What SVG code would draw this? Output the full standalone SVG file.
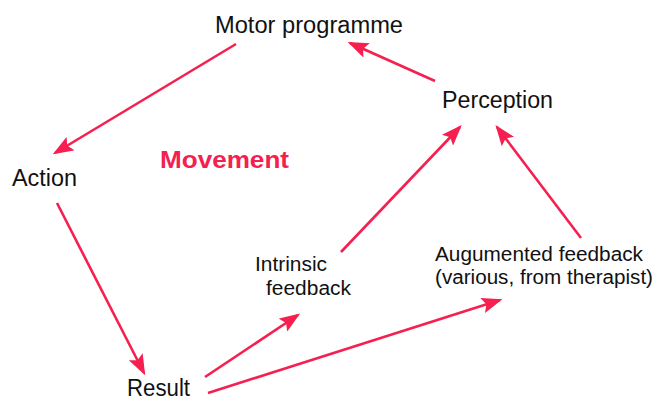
<svg xmlns="http://www.w3.org/2000/svg" width="656" height="400" viewBox="0 0 656 400">
<style>
text{font-family:"Liberation Sans",Arial,sans-serif;fill:#111;}
.n{font-size:23.5px;}
.s{font-size:20px;}
.m{font-size:23.5px;font-weight:bold;fill:#f5204f;}
.c line{stroke:#f5204f;stroke-width:2.6;marker-end:url(#ah);}
</style>
<defs>
<marker id="ah" markerWidth="8" markerHeight="6" refX="7" refY="3" orient="auto" markerUnits="strokeWidth">
<path d="M0,0 L8,3 L0,6 L1.5,3 Z" fill="#f5204f"/>
</marker>
</defs>
<rect width="656" height="400" fill="#fff"/>
<g class="c">
<line x1="236" y1="44" x2="55" y2="153"/>
<line x1="435" y1="81" x2="350" y2="43"/>
<line x1="57" y1="203" x2="144" y2="373"/>
<line x1="341" y1="252" x2="460" y2="127"/>
<line x1="581" y1="238" x2="497" y2="127"/>
<line x1="205" y1="377" x2="298" y2="315"/>
<line x1="208" y1="393" x2="500" y2="300"/>
</g>
<g id="motor"><text class="n" x="215" y="33" textLength="188" lengthAdjust="spacingAndGlyphs">Motor programme</text></g>
<g id="perception"><text class="n" x="442" y="108" textLength="111" lengthAdjust="spacingAndGlyphs">Perception</text></g>
<g id="movement"><text class="m" x="160" y="168" textLength="129" lengthAdjust="spacingAndGlyphs">Movement</text></g>
<g id="action"><text class="n" x="12" y="186" textLength="65" lengthAdjust="spacingAndGlyphs">Action</text></g>
<g id="result"><text class="n" x="127" y="396" textLength="63" lengthAdjust="spacingAndGlyphs">Result</text></g>
<g id="intrinsic"><text class="s" x="255" y="271" textLength="72" lengthAdjust="spacingAndGlyphs">Intrinsic</text><text class="s" x="266" y="295" textLength="85" lengthAdjust="spacingAndGlyphs">feedback</text></g>
<g id="augmented"><text class="s" x="435" y="261" textLength="208" lengthAdjust="spacingAndGlyphs">Augumented feedback</text><text class="s" x="435" y="284" textLength="218" lengthAdjust="spacingAndGlyphs">(various, from therapist)</text></g>
</svg>
